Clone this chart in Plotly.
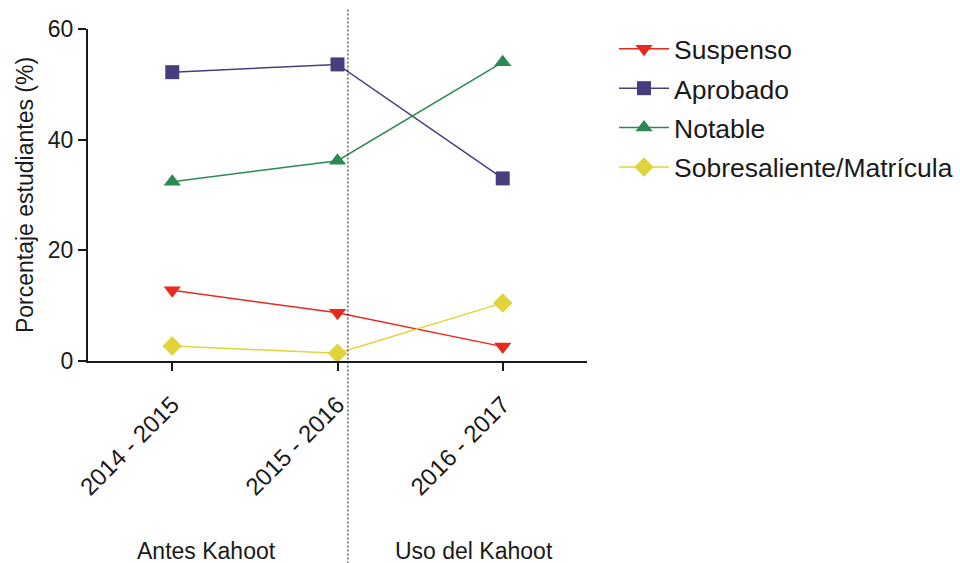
import plotly.graph_objects as go

categories = ["2014 - 2015", "2015 - 2016", "2016 - 2017"]
suspenso = [12.8, 8.7, 2.6]
aprobado = [52.2, 53.6, 33.0]
notable = [32.4, 36.2, 54.0]
sobresaliente = [2.7, 1.4, 10.5]
y_ticks = [0, 20, 40, 60]

series = [
    ("Suspenso", suspenso, "#E8291F", "triangle-down", 15),
    ("Aprobado", aprobado, "#483D7E", "square", 14),
    ("Notable", notable, "#2B8A52", "triangle-up", 15),
    ("Sobresaliente/Matrícula", sobresaliente, "#E0D43A", "diamond", 15),
]

xi = list(range(len(categories)))
fig = go.Figure()
for name, vals, color, sym, size in series:
    fig.add_trace(go.Scatter(
        x=xi, y=vals, name=name, mode="lines+markers",
        line=dict(color=color, width=1.5),
        marker=dict(symbol=sym, size=size, color=color),
        legendgroup=name,
    ))

font = "Liberation Sans, Arial, sans-serif"
fig.update_layout(
    width=960, height=563,
    margin=dict(l=88, r=373, t=29, b=202),
    plot_bgcolor="white", paper_bgcolor="white",
    font=dict(family=font, size=22, color="#1a1a1a"),
    showlegend=True,
    legend=dict(xref="container", yref="container", x=0.6396, y=0.9556,
                xanchor="left", yanchor="top", itemwidth=50,
                font=dict(size=26.5), tracegroupgap=2, bgcolor="rgba(0,0,0,0)"),
    xaxis=dict(range=[-0.51, 2.51], tickmode="array", tickvals=xi, ticktext=categories,
               tickangle=-45, showline=True, linecolor="#1a1a1a", linewidth=2,
               ticks="outside", ticklen=8, tickwidth=1.5, tickcolor="#1a1a1a",
               showgrid=False, zeroline=False, tickfont=dict(size=24),
               ticklabelstandoff=10, automargin=False),
    yaxis=dict(range=[0, 60], tickvals=y_ticks, showline=True, linecolor="#1a1a1a", linewidth=2,
               ticks="outside", ticklen=8, tickwidth=1.5, tickcolor="#1a1a1a",
               showgrid=False, zeroline=False, tickfont=dict(size=23), automargin=False,
               title=dict(text="Porcentaje estudiantes (%)", font=dict(size=23), standoff=8)),
)

fig.add_shape(type="line", xref="x", yref="paper", x0=1.063, x1=1.063, y0=-0.61, y1=1.06,
              line=dict(color="#1a1a1a", width=1, dash="2px,2px"))
fig.add_annotation(text="Antes Kahoot", xref="x", yref="paper", x=0.21, y=-0.572,
                   yanchor="middle", showarrow=False, font=dict(size=23))
fig.add_annotation(text="Uso del Kahoot", xref="x", yref="paper", x=1.825, y=-0.572,
                   yanchor="middle", showarrow=False, font=dict(size=23))

fig.write_html("out.html", config={"displayModeBar": False},
               post_script="document.body.style.margin='0';document.body.style.overflow='hidden';")
